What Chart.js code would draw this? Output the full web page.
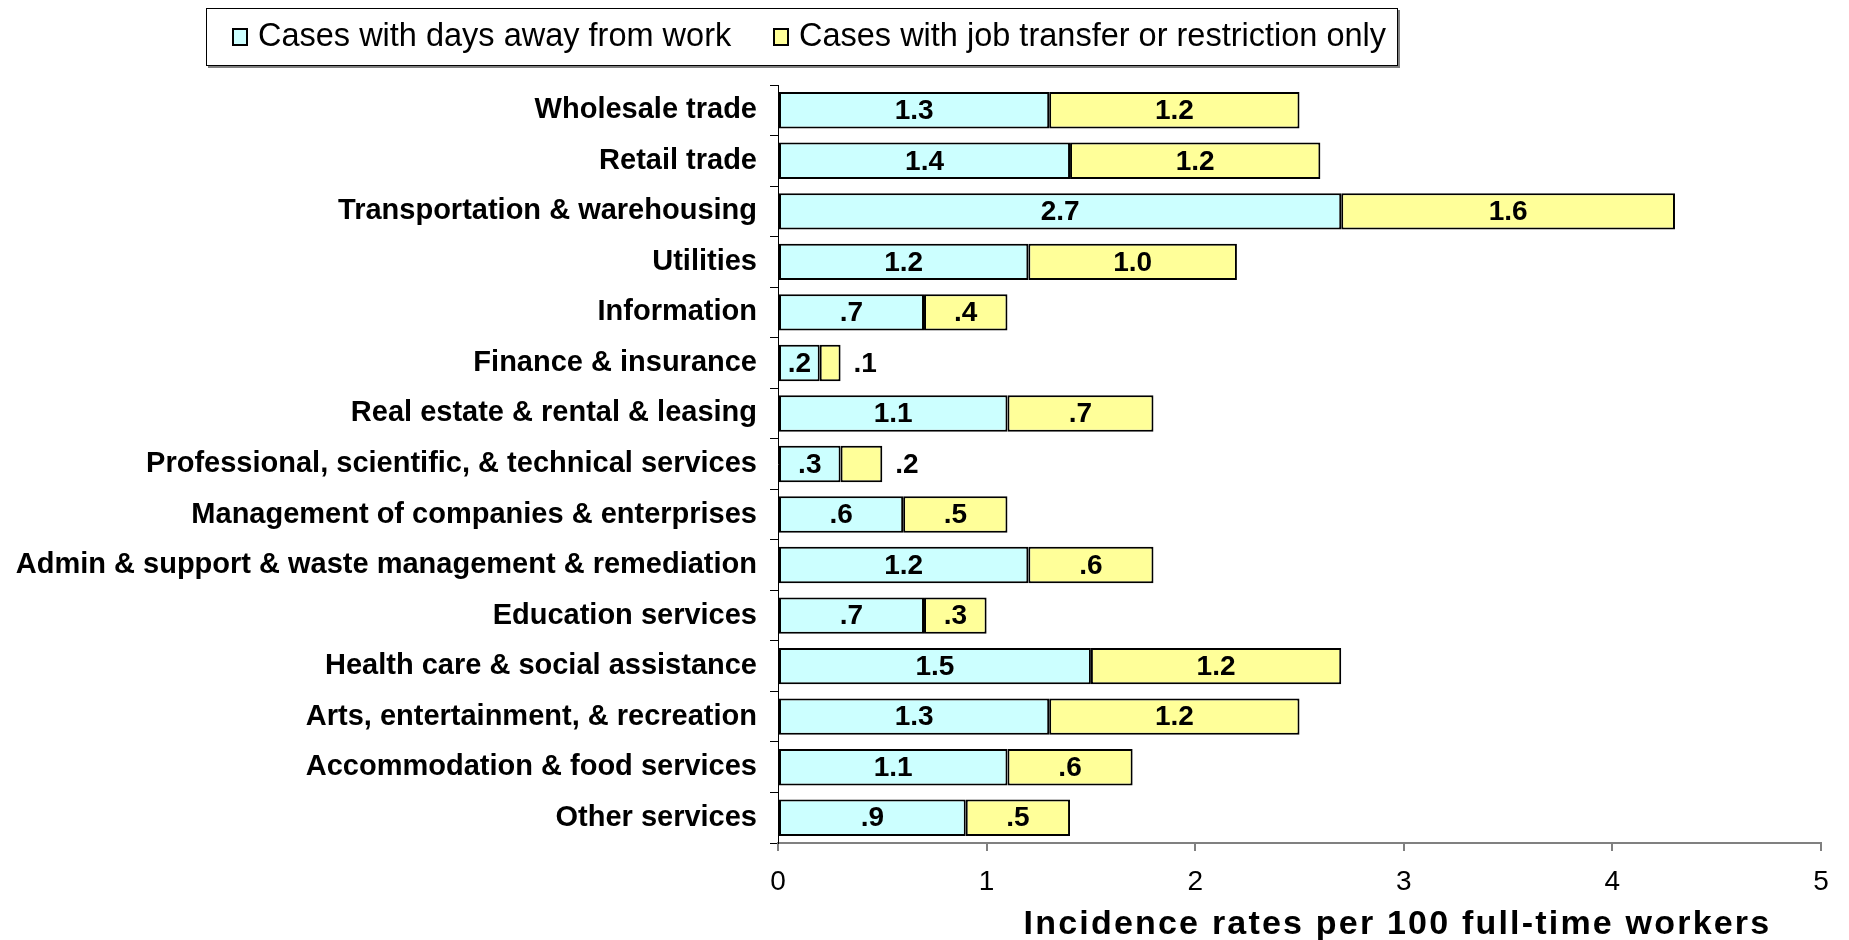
<!DOCTYPE html>
<html>
<head>
<meta charset="utf-8">
<script src="https://cdn.jsdelivr.net/npm/chart.js@4.4.1/dist/chart.umd.min.js"></script>
<style>
    html, body { margin: 0; padding: 0; background: #fff; }
    #wrap { width: 1849px; height: 940px; }
</style>
</head>
<body>
<div id="wrap"><canvas id="injuryChart"></canvas></div>
<script>
// Industry categories (top to bottom)
const industries = [
    'Wholesale trade',
    'Retail trade',
    'Transportation & warehousing',
    'Utilities',
    'Information',
    'Finance & insurance',
    'Real estate & rental & leasing',
    'Professional, scientific, & technical services',
    'Management of companies & enterprises',
    'Admin & support & waste management & remediation',
    'Education services',
    'Health care & social assistance',
    'Arts, entertainment, & recreation',
    'Accommodation & food services',
    'Other services'
];

// Incidence rates per 100 full-time workers
const daysAwayRates = [1.3, 1.4, 2.7, 1.2, 0.7, 0.2, 1.1, 0.3, 0.6, 1.2, 0.7, 1.5, 1.3, 1.1, 0.9];
const restrictionRates = [1.2, 1.2, 1.6, 1.0, 0.4, 0.1, 0.7, 0.2, 0.5, 0.6, 0.3, 1.2, 1.2, 0.6, 0.5];

const xTicks = [0, 1, 2, 3, 4, 5];
const seriesNames = ['Cases with days away from work', 'Cases with job transfer or restriction only'];
const xTitle = 'Incidence rates per 100 full-time workers';

const FONT = '"Liberation Sans", Arial, sans-serif';

// format like ".7" / "1.2"
function fmt(v) {
    return v.toFixed(1).replace(/^0\./, '.');
}

// Value labels inside bar segments; tiny outer segments get the label beside the bar
const valueLabels = {
    id: 'valueLabels',
    afterDatasetsDraw(chart) {
        const ctx = chart.ctx;
        ctx.save();
        ctx.font = 'bold 28px ' + FONT;
        ctx.fillStyle = '#000';
        ctx.textBaseline = 'middle';
        chart.data.datasets.forEach((ds, di) => {
            const meta = chart.getDatasetMeta(di);
            meta.data.forEach((bar, i) => {
                const txt = fmt(ds.data[i]);
                const w = ctx.measureText(txt).width;
                const segW = Math.abs(bar.x - bar.base);
                if (di === 0 || segW >= w + 30) {
                    ctx.textAlign = 'center';
                    ctx.fillText(txt, (bar.x + bar.base) / 2, bar.y + 1);
                } else {
                    ctx.textAlign = 'left';
                    ctx.fillText(txt, bar.x + 13, bar.y + 1);
                }
            });
        });
        ctx.restore();
    }
};

// Boxed legend + offset x-axis title
const decorations = {
    id: 'decorations',
    afterDraw(chart) {
        const ctx = chart.ctx;
        ctx.save();
        // legend frame with shadow
        ctx.fillStyle = '#808080';
        ctx.fillRect(208, 10, 1192, 58);
        ctx.fillStyle = '#fff';
        ctx.fillRect(206, 8, 1192, 58);
        ctx.strokeStyle = '#000';
        ctx.lineWidth = 1;
        ctx.strokeRect(206.5, 8.5, 1191, 57);

        const itemX = [233, 774];
        ctx.font = '32.5px ' + FONT;
        ctx.textBaseline = 'middle';
        ctx.textAlign = 'left';
        chart.data.datasets.forEach((ds, i) => {
            ctx.fillStyle = ds.backgroundColor;
            ctx.fillRect(itemX[i], 29, 14, 16);
            ctx.strokeStyle = '#000';
            ctx.lineWidth = 2;
            ctx.strokeRect(itemX[i], 29, 14, 16);
            ctx.fillStyle = '#000';
            ctx.fillText(ds.label, itemX[i] + 25, 37);
        });

        // x-axis title
        const xs = chart.scales.x;
        ctx.font = 'bold 34px ' + FONT;
        ctx.letterSpacing = '2.2px';
        ctx.textAlign = 'center';
        ctx.fillText(xTitle, (xs.left + xs.right) / 2 + 98, 925);
        ctx.restore();
    }
};

const ctx = document.getElementById('injuryChart').getContext('2d');
new Chart(ctx, {
    type: 'bar',
    data: {
        labels: industries,
        datasets: [{
            label: seriesNames[0],
            data: daysAwayRates,
            backgroundColor: '#CCFFFF',
            borderColor: '#000',
            borderWidth: 2,
            borderSkipped: false
        }, {
            label: seriesNames[1],
            data: restrictionRates,
            backgroundColor: '#FFFF99',
            borderColor: '#000',
            borderWidth: 2,
            borderSkipped: false
        }]
    },
    options: {
        indexAxis: 'y',
        responsive: true,
        maintainAspectRatio: false,
        animation: false,
        layout: { padding: { top: 85, right: 28, left: 0, bottom: 0 } },
        datasets: { bar: { barPercentage: 0.72, categoryPercentage: 1 } },
        plugins: {
            legend: { display: false },
            tooltip: { enabled: false }
        },
        scales: {
            x: {
                stacked: true,
                min: 0,
                max: 5,
                afterBuildTicks(scale) {
                    scale.ticks = xTicks.map(v => ({ value: v }));
                },
                afterFit(scale) { scale.height = 97; },
                grid: { drawOnChartArea: false, tickLength: 8, color: '#808080', lineWidth: 2 },
                border: { color: '#808080', width: 2 },
                ticks: {
                    color: '#000',
                    padding: 14,
                    font: { family: FONT, size: 28 }
                }
            },
            y: {
                stacked: true,
                afterFit(scale) { scale.width = 778; },
                grid: { drawOnChartArea: false, tickLength: 8, color: '#000', lineWidth: 1, offset: true },
                border: { color: '#000', width: 1 },
                ticks: {
                    color: '#000',
                    padding: 13,
                    autoSkip: false,
                    font: { family: FONT, size: 29, weight: 'bold' }
                }
            }
        }
    },
    plugins: [valueLabels, decorations]
});
</script>
</body>
</html>
